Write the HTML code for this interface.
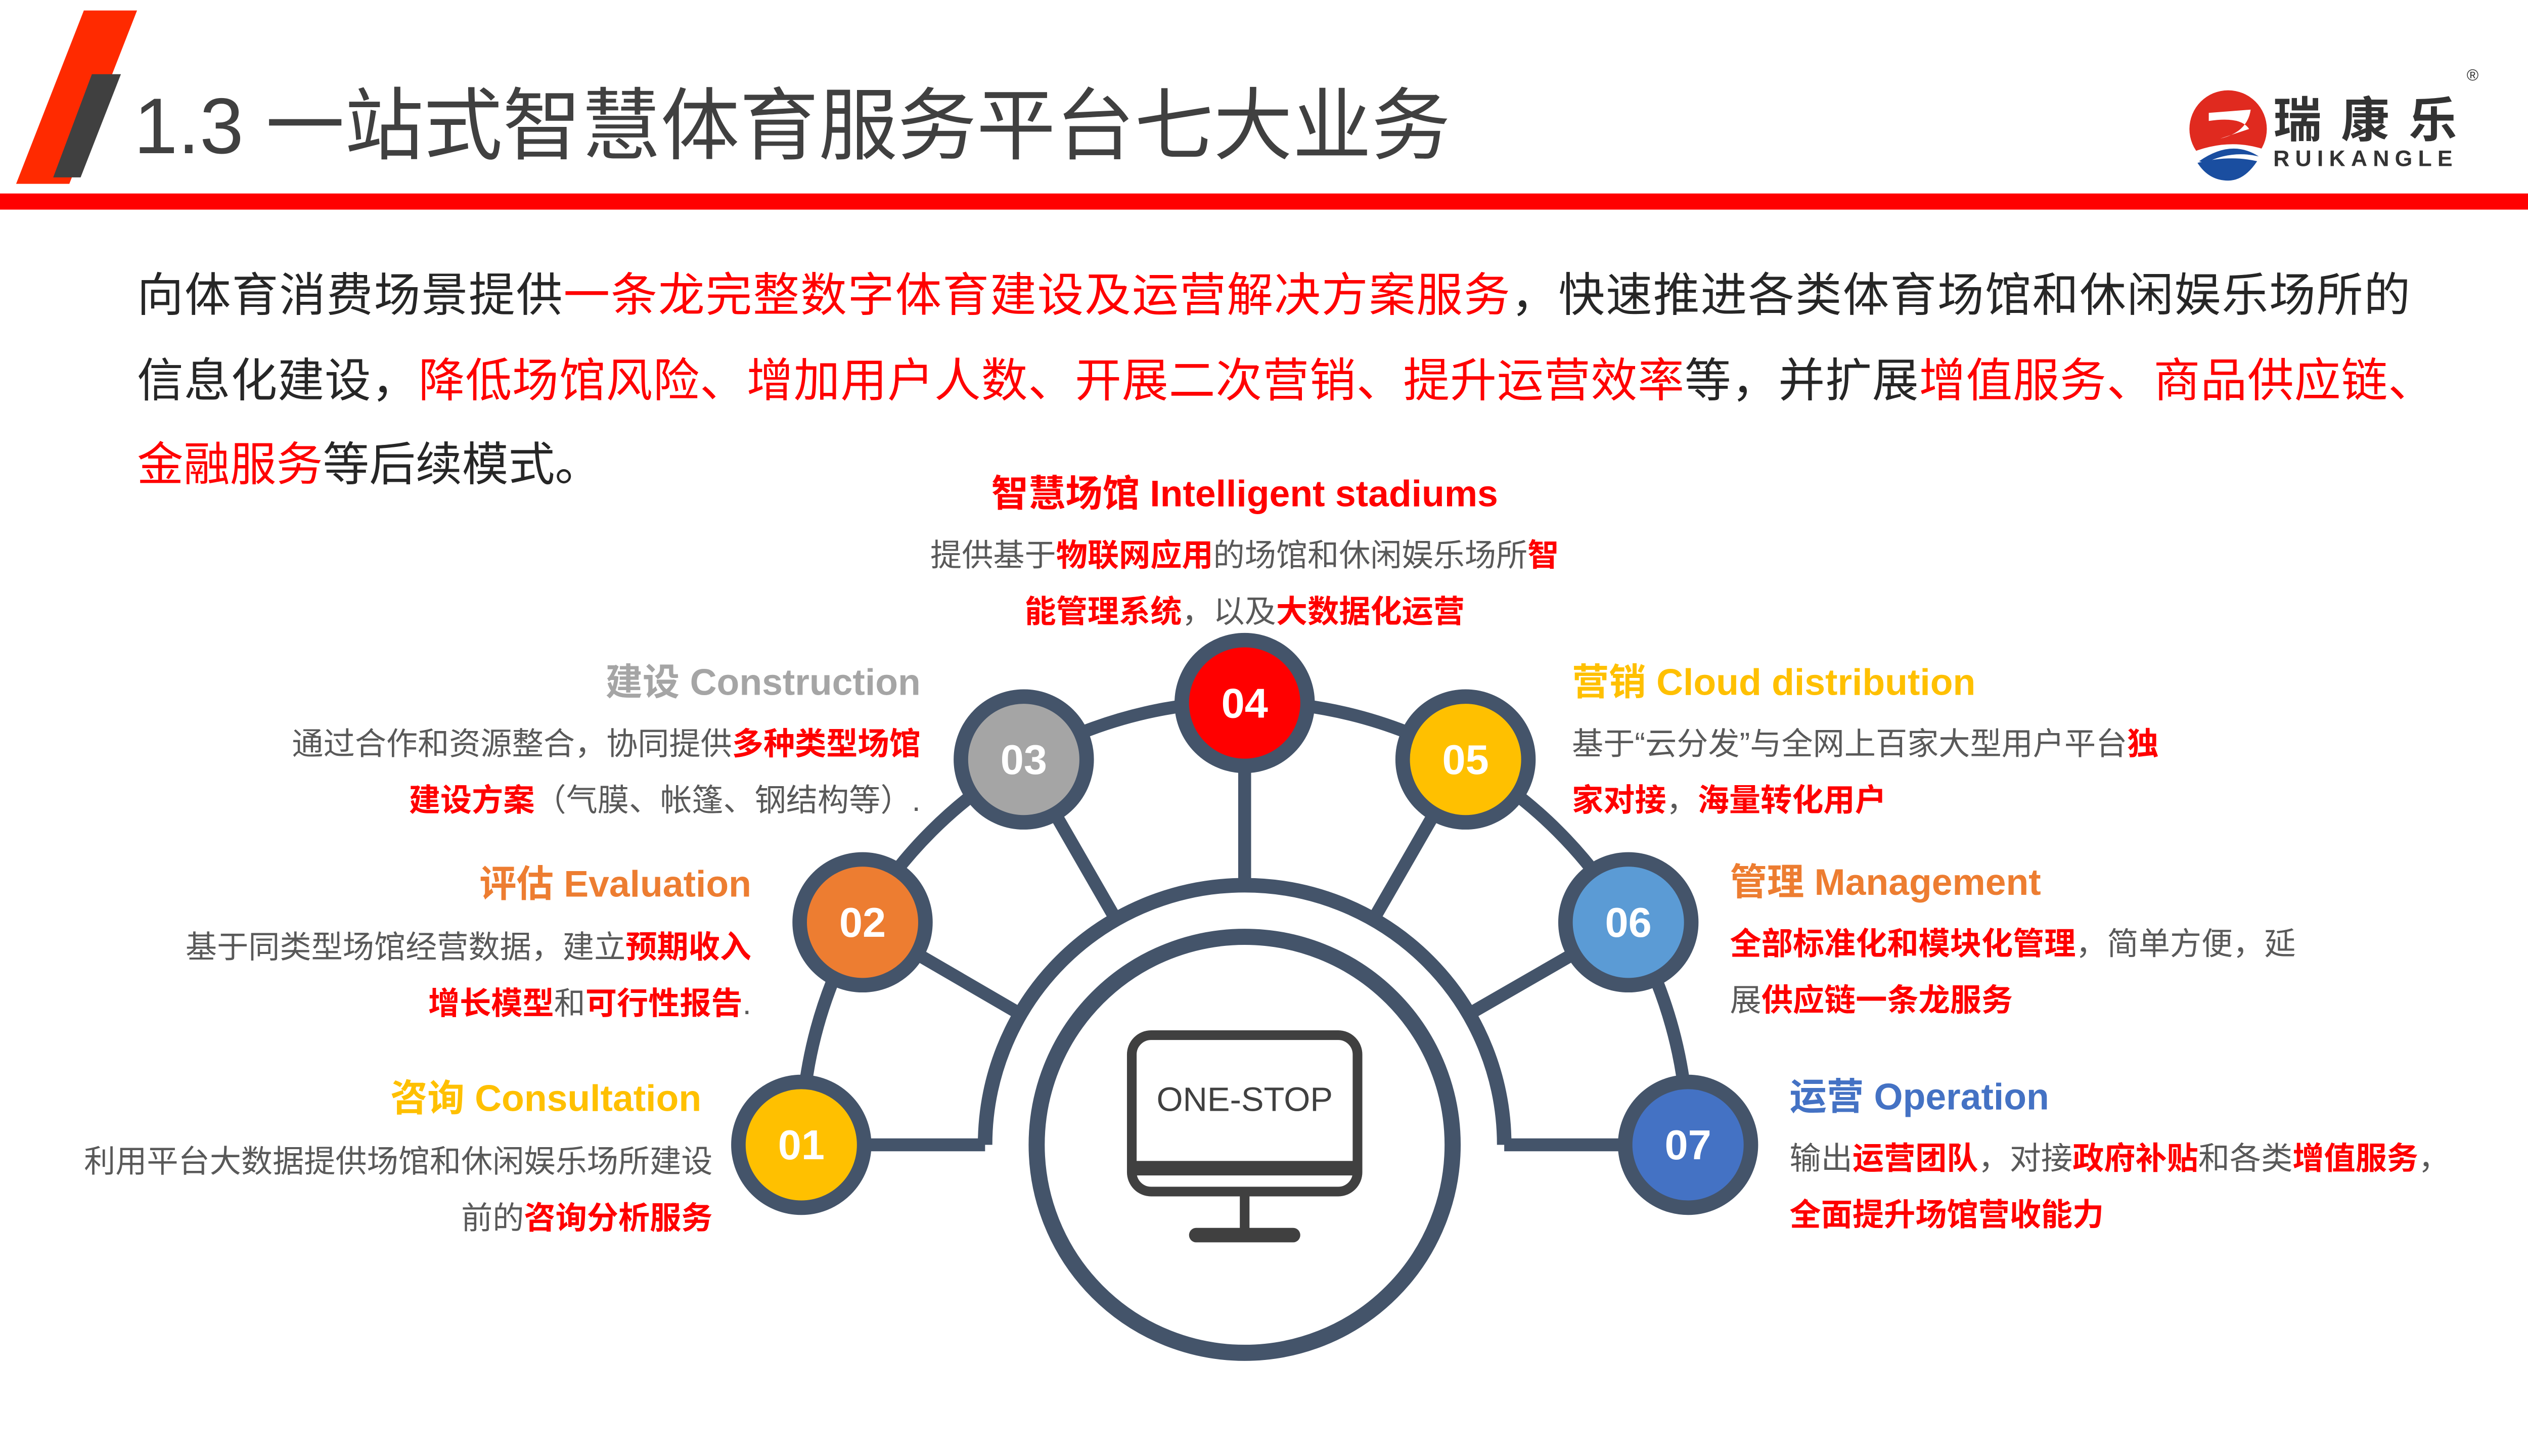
<!DOCTYPE html>
<html><head><meta charset="utf-8"><style>
html,body{margin:0;padding:0;background:#fff;overflow:hidden;width:100vw;height:100vh;}
svg{display:block;width:100vw;height:100vh;}
text{font-family:"Liberation Sans","Noto Sans CJK SC",sans-serif;}
.b{fill:#595959;font-size:19.5px;}
.r{fill:#ff0000;font-weight:bold;}
.t{font-size:23px;font-weight:bold;}
.p{font-size:28.8px;fill:#262626;}
.pr{fill:#ff0000;}
.n{font-size:26px;font-weight:bold;fill:#fff;}
</style></head><body>
<svg viewBox="0 0 1568 903" preserveAspectRatio="none" xmlns="http://www.w3.org/2000/svg">
<!-- header -->
<polygon points="52,6.5 85,6.5 43,114 10,114" fill="#ff2a00"/>
<polygon points="57,46 75,46 50,110 33,110" fill="#404040"/>
<text x="83" y="95" font-size="49" fill="#404040">1.3 一站式智慧体育服务平台七大业务</text>
<rect x="0" y="120" width="1568" height="10" fill="#ff0000"/>
<!-- logo -->
<circle cx="1382" cy="80" r="24" fill="#e02a1f"/>
<path d="M1356,96 Q1383,84 1408,94 L1408,110 L1356,110 Z" fill="#fff"/>
<path d="M1364,100 Q1384,86 1401,97 Q1384,93 1368,101 Z" fill="#1a4ea0"/>
<path d="M1363,101 Q1383,96 1400,100 Q1392,112 1382,112 Q1370,112 1363,101 Z" fill="#1a4ea0"/>
<path d="M1370,70 L1396,68 Q1394,82 1377,86 L1395,80 Q1390,72 1370,75 Z" fill="#fff"/>
<text x="1410" y="85" font-size="30" font-weight="bold" fill="#333" letter-spacing="12">瑞康乐</text>
<text x="1410" y="103" font-size="14" font-weight="bold" fill="#333" letter-spacing="3.5">RUIKANGLE</text>
<text x="1530" y="50" font-size="10" fill="#333">®</text>
<!-- paragraph -->
<text class="p" x="85" y="193" textLength="1410">向体育消费场景提供<tspan class="pr">一条龙完整数字体育建设及运营解决方案服务</tspan>，快速推进各类体育场馆和休闲娱乐场所的</text>
<text class="p" x="85" y="246" textLength="1425">信息化建设，<tspan class="pr">降低场馆风险、增加用户人数、开展二次营销、提升运营效率</tspan>等，并扩展<tspan class="pr">增值服务、商品供应链、</tspan></text>
<text class="p" x="85" y="298"><tspan class="pr">金融服务</tspan>等后续模式。</text>
<!-- diagram -->
<g fill="none" stroke="#44546a">
<path d="M497,710 A275,275 0 0 1 1047,710" stroke-width="8"/>
<path d="M611,710 A161,161 0 0 1 933,710" stroke-width="9"/>
<line x1="497" y1="710" x2="611" y2="710" stroke-width="8"/>
<line x1="933" y1="710" x2="1047" y2="710" stroke-width="8"/>
<line x1="772" y1="436" x2="772" y2="549" stroke-width="8"/>
<line x1="635" y1="471" x2="692" y2="570" stroke-width="8"/>
<line x1="909" y1="471" x2="852" y2="570" stroke-width="8"/>
<line x1="535" y1="572" x2="633" y2="629" stroke-width="8"/>
<line x1="1010" y1="572" x2="911" y2="629" stroke-width="8"/>
<circle cx="772" cy="710" r="129" stroke-width="10"/>
</g>
<g stroke="#44546a" stroke-width="9">
<circle cx="497" cy="710" r="39" fill="#ffc000"/>
<circle cx="535" cy="572" r="39" fill="#ed7d31"/>
<circle cx="635" cy="471" r="39" fill="#a5a5a5"/>
<circle cx="772" cy="436" r="39" fill="#ff0000"/>
<circle cx="909" cy="471" r="39" fill="#ffc000"/>
<circle cx="1010" cy="572" r="39" fill="#5b9bd5"/>
<circle cx="1047" cy="710" r="39" fill="#4472c4"/>
</g>
<g text-anchor="middle">
<text class="n" x="497" y="719">01</text>
<text class="n" x="535" y="581">02</text>
<text class="n" x="635" y="480">03</text>
<text class="n" x="772" y="445">04</text>
<text class="n" x="909" y="480">05</text>
<text class="n" x="1010" y="581">06</text>
<text class="n" x="1047" y="719">07</text>
</g>
<!-- monitor -->
<rect x="702" y="642" width="140" height="97" rx="12" fill="none" stroke="#404040" stroke-width="6"/>
<rect x="702" y="720" width="140" height="9" fill="#404040"/>
<line x1="772" y1="742" x2="772" y2="765" stroke="#404040" stroke-width="6"/>
<line x1="742" y1="766" x2="802" y2="766" stroke="#404040" stroke-width="9" stroke-linecap="round"/>
<text x="772" y="689" font-size="21" fill="#404040" text-anchor="middle">ONE-STOP</text>
<!-- 04 -->
<g text-anchor="middle">
<text class="t" x="772" y="314" fill="#ff0000">智慧场馆 Intelligent stadiums</text>
<text class="b" x="772" y="351">提供基于<tspan class="r">物联网应用</tspan>的场馆和休闲娱乐场所<tspan class="r">智</tspan></text>
<text class="b" x="772" y="386"><tspan class="r">能管理系统</tspan>，以及<tspan class="r">大数据化运营</tspan></text>
</g>
<!-- left side -->
<g text-anchor="end">
<text class="t" x="571" y="431" fill="#a5a5a5">建设 Construction</text>
<text class="b" x="571" y="468">通过合作和资源整合，协同提供<tspan class="r">多种类型场馆</tspan></text>
<text class="b" x="571" y="503"><tspan class="r">建设方案</tspan>（气膜、帐篷、钢结构等）.</text>
<text class="t" x="466" y="556" fill="#ed7d31">评估 Evaluation</text>
<text class="b" x="466" y="594">基于同类型场馆经营数据，建立<tspan class="r">预期收入</tspan></text>
<text class="b" x="466" y="629"><tspan class="r">增长模型</tspan>和<tspan class="r">可行性报告</tspan>.</text>
<text class="t" x="435" y="689" fill="#ffc000">咨询 Consultation</text>
<text class="b" x="442" y="727">利用平台大数据提供场馆和休闲娱乐场所建设</text>
<text class="b" x="442" y="762">前的<tspan class="r">咨询分析服务</tspan></text>
</g>
<!-- right side -->
<text class="t" x="975" y="431" fill="#ffc000">营销 Cloud distribution</text>
<text class="b" x="975" y="468">基于“云分发”与全网上百家大型用户平台<tspan class="r">独</tspan></text>
<text class="b" x="975" y="503"><tspan class="r">家对接</tspan>，<tspan class="r">海量转化用户</tspan></text>
<text class="t" x="1073" y="555" fill="#ed7d31">管理 Management</text>
<text class="b" x="1073" y="592"><tspan class="r">全部标准化和模块化管理</tspan>，简单方便，延</text>
<text class="b" x="1073" y="627">展<tspan class="r">供应链一条龙服务</tspan></text>
<text class="t" x="1110" y="688" fill="#4472c4">运营 Operation</text>
<text class="b" x="1110" y="725">输出<tspan class="r">运营团队</tspan>，对接<tspan class="r">政府补贴</tspan>和各类<tspan class="r">增值服务</tspan>，</text>
<text class="b" x="1110" y="760"><tspan class="r">全面提升场馆营收能力</tspan></text>
</svg>
</body></html>
